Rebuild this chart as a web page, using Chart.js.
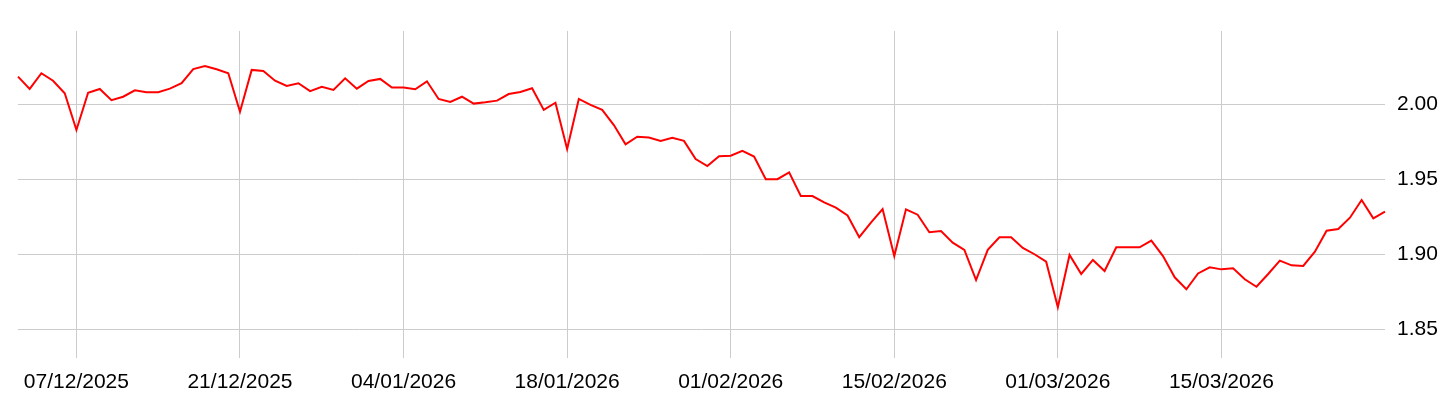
<!DOCTYPE html>
<html>
<head>
<meta charset="utf-8">
<script src="https://cdn.jsdelivr.net/npm/chart.js@4/dist/chart.umd.min.js"></script>
<style>
  html, body { margin: 0; padding: 0; background: #ffffff; }
  #wrap { width: 1456px; height: 410px; }
</style>
</head>
<body>
<div id="wrap"><canvas id="c" width="1456" height="410"></canvas></div>
<script>
// Daily dates 02/12/2025 .. 29/03/2026
const startDate = [2025, 11, 2];
const dayCount = 118;

// Series values
const values = [
  2.0187, 2.0105, 2.0210, 2.0160, 2.0076, 1.9831, 2.0080, 2.0105, 2.0030, 2.0053,
  2.0096, 2.0083, 2.0083, 2.0107, 2.0143, 2.0238, 2.0258, 2.0236, 2.0210, 1.9953,
  2.0232, 2.0225, 2.0160, 2.0125, 2.0143, 2.0090, 2.0120, 2.0098, 2.0176, 2.0107,
  2.0158, 2.0172, 2.0114, 2.0114, 2.0103, 2.0156, 2.0038, 2.0018, 2.0053, 2.0007,
  2.0016, 2.0027, 2.0071, 2.0085, 2.0110, 1.9965, 2.0013, 1.9704, 2.0038, 1.9998,
  1.9965, 1.9864, 1.9735, 1.9786, 1.9780, 1.9758, 1.9778, 1.9758, 1.9637, 1.9590,
  1.9655, 1.9659, 1.9691, 1.9653, 1.9502, 1.9502, 1.9548, 1.9390, 1.9390, 1.9348,
  1.9312, 1.9260, 1.9115, 1.9212, 1.9303, 1.8989, 1.9301, 1.9265, 1.9148, 1.9156,
  1.9078, 1.9030, 1.8829, 1.9030, 1.9114, 1.9114, 1.9043, 1.9001, 1.8951, 1.8647,
  1.8996, 1.8869, 1.8963, 1.8889, 1.9047, 1.9047, 1.9047, 1.9092, 1.8989, 1.8847,
  1.8767, 1.8873, 1.8914, 1.8900, 1.8907, 1.8834, 1.8784, 1.8869, 1.8958, 1.8927,
  1.8923, 1.9018, 1.9158, 1.9170, 1.9245, 1.9363, 1.9241, 1.9285
];

// Y-axis tick values
const yTicks = [1.85, 1.90, 1.95, 2.00];

// Category labels (dd/mm/yyyy)
function pad(n) { return (n < 10 ? '0' : '') + n; }
const categories = [];
for (let i = 0; i < dayCount; i++) {
  const d = new Date(startDate[0], startDate[1], startDate[2] + i);
  categories.push(pad(d.getDate()) + '/' + pad(d.getMonth() + 1) + '/' + d.getFullYear());
}
// Visible tick labels (every 14 days)
const xTickLabels = ['07/12/2025', '21/12/2025', '04/01/2026', '18/01/2026',
                     '01/02/2026', '15/02/2026', '01/03/2026', '15/03/2026'];

const gridColor = '#cccccc';
const fontSpec = { family: "'Liberation Sans', Arial, sans-serif", size: 21 };
const shown = (i) => xTickLabels.indexOf(categories[i]) !== -1;

new Chart(document.getElementById('c'), {
  type: 'line',
  data: {
    labels: categories,
    datasets: [{
      data: values,
      borderColor: '#ff0000',
      borderWidth: 2,
      pointRadius: 0,
      pointHoverRadius: 0,
      tension: 0,
      fill: false
    }]
  },
  options: {
    responsive: false,
    animation: false,
    devicePixelRatio: 1,
    layout: { padding: { left: 18, top: 31, right: 0, bottom: 0 } },
    plugins: { legend: { display: false }, tooltip: { enabled: false } },
    scales: {
      x: {
        type: 'category',
        offset: false,
        border: { display: false },
        grid: {
          drawTicks: false,
          lineWidth: 1,
          color: (ctx) => shown(ctx.index) ? gridColor : 'rgba(0,0,0,0)'
        },
        ticks: {
          autoSkip: false,
          maxRotation: 0,
          minRotation: 0,
          padding: 12,
          color: '#000000',
          font: fontSpec,
          callback: function(value, index) {
            return shown(index) ? categories[index] : '';
          }
        },
        afterFit: (scale) => { scale.height = 52; }
      },
      y: {
        position: 'right',
        min: 1.8308,
        max: 2.0492,
        border: { display: false },
        grid: { drawTicks: false, color: gridColor, lineWidth: 1 },
        afterBuildTicks: (scale) => { scale.ticks = yTicks.map(v => ({ value: v })); },
        ticks: {
          padding: 12,
          color: '#000000',
          font: fontSpec,
          callback: (v) => Number(v).toFixed(2)
        },
        afterFit: (scale) => { scale.width = 71; }
      }
    }
  }
});
</script>
</body>
</html>
